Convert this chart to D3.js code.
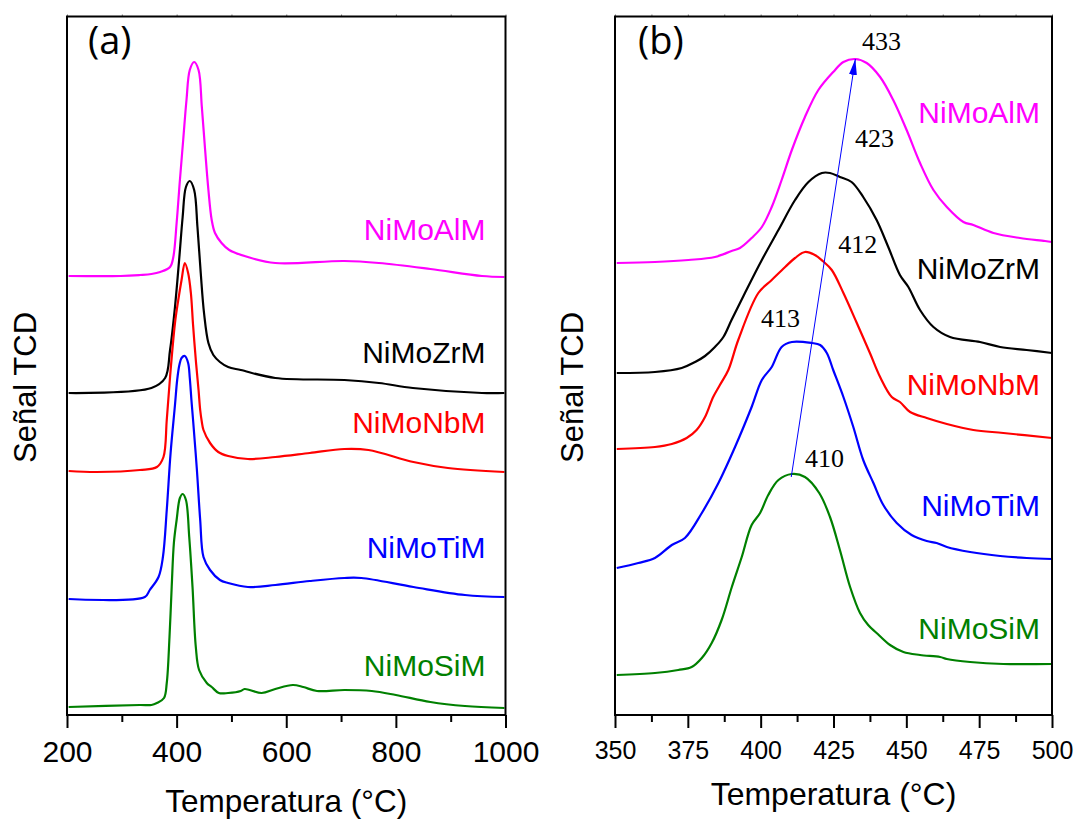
<!DOCTYPE html>
<html>
<head>
<meta charset="utf-8">
<script src="https://cdn.jsdelivr.net/npm/d3@7"></script>
<style>
body { margin: 0; background: #fff; }
text { font-family: "Liberation Sans", Arial, sans-serif; }
</style>
</head>
<body>
<div id="chart"></div>
<script>

// samples, top to bottom
var samples = ["NiMoAlM", "NiMoZrM", "NiMoNbM", "NiMoTiM", "NiMoSiM"];
var colors = ["#ff00ff", "#000000", "#ff0000", "#0000ff", "#008000"];

// ---- panel (a): 200-1000 °C, TCD signal (a.u., curves offset) ----
var tempA_Al = [203, 298, 333, 354, 370, 388, 394, 400, 406, 412, 418, 424, 432, 440, 446, 452, 458, 464, 470, 482, 496, 530, 580, 706, 769, 863, 957, 998];
var sigA_Al = [43.9, 43.9, 44.0, 44.1, 44.3, 44.8, 45.8, 49.2, 53.5, 57.5, 61.5, 64.5, 65.3, 64.5, 60.8, 56.5, 52.5, 49.5, 48.2, 47.2, 46.5, 45.8, 45.2, 45.4, 45.2, 44.6, 43.9, 43.8];

var tempA_Zr = [203, 354, 379, 388, 397, 405, 411, 417, 424, 432, 438, 444, 450, 458, 467, 479, 494, 517, 580, 706, 769, 831, 957, 998];
var sigA_Zr = [32.2, 32.7, 33.7, 36.5, 40.8, 45.8, 49.8, 52.8, 53.4, 52.5, 48.8, 44.2, 40.2, 37.2, 36.0, 35.3, 34.8, 34.5, 33.7, 33.5, 33.2, 32.7, 32.2, 32.2];

var tempA_Nb = [203, 254, 333, 364, 376, 382, 388, 397, 403, 409, 415, 421, 426, 430, 435, 440, 443, 446, 449, 461, 476, 494, 530, 580, 643, 706, 750, 832, 895, 998];
var sigA_Nb = [24.4, 24.3, 24.5, 24.8, 25.8, 29.5, 33.8, 39.2, 41.5, 43.5, 45.2, 44.2, 42.2, 39.0, 35.5, 32.5, 30.5, 29.3, 28.5, 27.2, 26.3, 25.9, 25.6, 25.8, 26.2, 26.6, 26.5, 25.3, 24.7, 24.3];

var tempA_Ti = [203, 342, 351, 367, 375, 382, 389, 397, 401, 405, 409, 415, 421, 424, 427, 430, 437, 443, 449, 461, 479, 494, 530, 580, 643, 706, 737, 832, 926, 998];
var sigA_Ti = [11.6, 11.8, 12.5, 13.8, 15.8, 20.5, 26.2, 31.0, 33.5, 35.0, 35.7, 35.9, 35.2, 33.7, 31.5, 29.5, 24.5, 19.5, 15.8, 14.5, 13.5, 13.2, 12.8, 13.0, 13.4, 13.7, 13.7, 12.8, 12.0, 11.8];

var tempA_Si = [203, 333, 354, 364, 377, 382, 387, 391, 395, 400, 406, 411, 417, 423, 429, 435, 441, 455, 464, 477, 494, 517, 524, 555, 580, 612, 631, 656, 706, 756, 800, 863, 926, 998];
var sigA_Si = [0.8, 1.0, 1.0, 1.2, 1.7, 3.2, 7.8, 12.8, 17.2, 19.5, 21.7, 22.1, 21.5, 17.8, 12.8, 6.8, 4.5, 3.2, 2.8, 2.2, 2.2, 2.4, 2.6, 2.2, 2.6, 3.0, 2.8, 2.4, 2.5, 2.4, 2.0, 1.3, 0.9, 0.7];

// ---- panel (b): 350-500 °C detail ----
var tempB_Al = [350.6, 363.7, 375.2, 384.3, 390.0, 392.9, 396.9, 400.4, 403.8, 407.2, 410.7, 415.2, 419.8, 424.9, 428.4, 432.4, 436.4, 441.0, 445.5, 450.1, 454.7, 459.3, 463.9, 469.6, 473.0, 479.9, 489.0, 497.6, 500];
var sigB_Al = [45.2, 45.3, 45.5, 45.8, 46.4, 46.7, 47.7, 48.8, 50.8, 53.5, 56.5, 59.8, 62.5, 64.3, 65.3, 65.6, 65.2, 63.8, 61.5, 58.5, 55.2, 52.5, 50.8, 49.3, 49.0, 48.2, 47.7, 47.4, 47.3];

var tempB_Zr = [350.6, 363.7, 372.9, 377.5, 380.9, 384.3, 387.2, 390.0, 394.6, 400.4, 406.1, 411.8, 416.4, 421.0, 423.8, 427.2, 431.2, 435.2, 439.8, 443.8, 447.8, 450.7, 454.7, 459.3, 465.0, 475.3, 482.2, 491.3, 500];
var sigB_Zr = [34.2, 34.3, 34.7, 35.3, 35.9, 36.8, 37.8, 39.5, 42.2, 45.5, 48.5, 51.5, 53.3, 54.2, 54.2, 53.8, 53.3, 51.8, 49.5, 46.8, 44.0, 42.8, 40.5, 38.8, 37.8, 37.3, 36.8, 36.5, 36.2];

var tempB_Nb = [350.6, 363.7, 369.5, 374.6, 378.0, 380.9, 383.7, 386.0, 388.9, 392.3, 399.2, 403.8, 408.4, 411.8, 415.2, 418.6, 421.3, 424.4, 428.4, 433.0, 437.5, 441.0, 445.0, 447.8, 451.3, 457.0, 463.9, 473.0, 483.3, 500];
var sigB_Nb = [26.6, 26.8, 27.1, 27.7, 28.5, 29.8, 31.8, 33.0, 34.5, 37.5, 42.2, 43.5, 44.8, 45.7, 46.3, 46.0, 45.4, 44.5, 42.2, 39.2, 36.2, 33.8, 31.8, 31.3, 30.3, 29.7, 29.1, 28.5, 28.2, 27.7];

var tempB_Ti = [350.6, 358.0, 363.7, 369.5, 374.0, 379.8, 385.5, 391.2, 396.9, 400.4, 403.8, 407.2, 410.7, 417.5, 420.4, 422.7, 424.9, 428.4, 431.8, 435.2, 438.7, 442.1, 446.7, 451.8, 457.0, 460.4, 463.9, 471.9, 482.2, 491.3, 500];
var sigB_Ti = [14.7, 15.2, 15.7, 17.0, 17.7, 20.2, 23.2, 26.8, 30.8, 33.5, 34.8, 36.8, 37.3, 37.2, 37.0, 36.2, 34.5, 31.8, 28.8, 25.5, 23.2, 21.0, 19.2, 18.0, 17.4, 17.2, 16.8, 16.3, 15.9, 15.7, 15.6];

var tempB_Si = [350.6, 363.7, 371.7, 376.3, 379.8, 383.2, 386.6, 390.1, 393.5, 396.9, 399.8, 402.6, 406.1, 410.7, 415.2, 420.1, 423.8, 427.2, 430.7, 434.1, 436.9, 439.8, 444.4, 449.0, 454.7, 461.6, 463.9, 471.9, 483.3, 500];
var sigB_Si = [4.0, 4.2, 4.5, 4.8, 5.7, 7.2, 9.5, 12.8, 15.8, 19.0, 20.2, 22.0, 23.5, 24.1, 23.8, 22.2, 19.8, 16.5, 12.8, 10.2, 9.0, 8.2, 7.0, 6.3, 6.0, 5.8, 5.6, 5.3, 5.1, 5.1];

// peak maxima (°C) written in panel (b), and the arrow joining SiM -> AlM peaks
var peakLabels = [433, 423, 412, 413, 410];
var arrowFrom = [410.5, 23.8];
var arrowTo = [432.5, 65.6];

// axis ticks
var ticksA = [200, 400, 600, 800, 1000];
var minorA = [300, 500, 700, 900];
var ticksB = [350, 375, 400, 425, 450, 475, 500];
var minorB = [362.5, 387.5, 412.5, 437.5, 462.5, 487.5];
var sigMax = 69.85;

var svgWidth = 1077;
var svgHeight = 819;
var plotTop = 16.5;
var plotBottom = 715;

var svg = d3.select("#chart")
	.append("svg")
	.attr("width", svgWidth)
	.attr("height", svgHeight);

svg.append("rect")
	.attr("width", svgWidth)
	.attr("height", svgHeight)
	.attr("fill", "#fff");

var panels = [
	{
		left: 67, right: 505.5, domain: [200, 1000],
		ticks: ticksA, minor: minorA, tickFont: 30,
		temps: [tempA_Al, tempA_Zr, tempA_Nb, tempA_Ti, tempA_Si],
		sigs: [sigA_Al, sigA_Zr, sigA_Nb, sigA_Ti, sigA_Si],
		letter: "(a)", letterX: 88,
		labelRight: 485.5, labelSig: [47.5, 35.2, 28.2, 15.7, 3.9],
		yTitleX: 36, xTitleY: 812, xTitleFont: 31.5
	},
	{
		left: 615, right: 1052, domain: [350, 500],
		ticks: ticksB, minor: minorB, tickFont: 25,
		temps: [tempB_Al, tempB_Zr, tempB_Nb, tempB_Ti, tempB_Si],
		sigs: [sigB_Al, sigB_Zr, sigB_Nb, sigB_Ti, sigB_Si],
		letter: "(b)", letterX: 638,
		labelRight: 1040, labelSig: [59.2, 43.6, 32.0, 19.9, 7.6],
		yTitleX: 583, xTitleY: 805, xTitleFont: 32
	}
];

var yScale = d3.scaleLinear()
	.domain([0, sigMax])
	.range([plotBottom, plotTop]);

panels.forEach(function(p, pi) {

	var xScale = d3.scaleLinear()
		.domain(p.domain)
		.range([p.left, p.right]);

	var g = svg.append("g");

	// bottom axis: major ticks with labels
	var bottomAxis = d3.axisBottom(xScale)
		.tickValues(p.ticks)
		.tickSize(13)
		.tickPadding(13)
		.tickFormat(d3.format("d"));

	var xAxis = g.append("g")
		.attr("transform", `translate(0, ${plotBottom})`)
		.call(bottomAxis);
	xAxis.select(".domain").remove();
	xAxis.selectAll("line").attr("stroke-width", 2);
	xAxis.selectAll("text")
		.style("font-family", "'Liberation Sans', Arial, sans-serif")
		.style("font-size", p.tickFont + "px")
		.attr("fill", "#000");

	// minor ticks
	var minorAxis = d3.axisBottom(xScale)
		.tickValues(p.minor)
		.tickSize(7)
		.tickFormat("");
	var xMinor = g.append("g")
		.attr("transform", `translate(0, ${plotBottom})`)
		.call(minorAxis);
	xMinor.select(".domain").remove();
	xMinor.selectAll("line").attr("stroke-width", 2);

	// faint ticks on top edge
	var topAxis = d3.axisTop(xScale)
		.tickValues(p.ticks.concat(p.minor))
		.tickSize(2)
		.tickFormat("");
	var xTop = g.append("g")
		.attr("transform", `translate(0, ${plotTop})`)
		.call(topAxis);
	xTop.select(".domain").remove();
	xTop.selectAll("line").attr("stroke", "#777").attr("stroke-width", 1);

	// curves
	var line = d3.line()
		.x(d => xScale(d[0]))
		.y(d => yScale(d[1]))
		.curve(d3.curveCatmullRom.alpha(0.5));

	g.append("defs").append("clipPath")
		.attr("id", "clip" + pi)
		.append("rect")
		.attr("x", p.left)
		.attr("y", plotTop)
		.attr("width", p.right - p.left)
		.attr("height", plotBottom - plotTop);

	samples.forEach(function(name, i) {
		var pts = p.temps[i].map((t, k) => [t, p.sigs[i][k]]);
		g.append("path")
			.datum(pts)
			.attr("clip-path", `url(#clip${pi})`)
			.attr("fill", "none")
			.attr("stroke", colors[i])
			.attr("stroke-width", 2.2)
			.attr("stroke-linejoin", "round")
			.attr("d", line);

		g.append("text")
			.attr("x", p.labelRight)
			.attr("y", yScale(p.labelSig[i]))
			.attr("text-anchor", "end")
			.style("font-size", "30px")
			.attr("fill", colors[i])
			.text(name);
	});

	// frame
	g.append("rect")
		.attr("x", p.left)
		.attr("y", plotTop)
		.attr("width", p.right - p.left)
		.attr("height", plotBottom - plotTop)
		.attr("fill", "none")
		.attr("stroke", "#000")
		.attr("stroke-width", 2);

	// panel letter
	g.append("text")
		.attr("x", p.letterX)
		.attr("y", 53.5)
		.style("font-family", "'Open Sans', sans-serif")
		.style("font-size", "38px")
		.text(p.letter);

	// axis titles
	g.append("text")
		.attr("x", (p.left + p.right) / 2)
		.attr("y", p.xTitleY)
		.attr("text-anchor", "middle")
		.style("font-size", p.xTitleFont + "px")
		.text("Temperatura (°C)");

	g.append("text")
		.attr("transform", `translate(${p.yTitleX}, 387.5) rotate(-90)`)
		.attr("text-anchor", "middle")
		.style("font-size", "31px")
		.text("Señal TCD");

	// panel (b): arrow through the peak maxima and their temperatures
	if (pi === 1) {
		g.append("defs").append("marker")
			.attr("id", "arrowHead")
			.attr("viewBox", "0 0 16 8")
			.attr("refX", 16)
			.attr("refY", 4)
			.attr("markerWidth", 16)
			.attr("markerHeight", 8)
			.attr("markerUnits", "userSpaceOnUse")
			.attr("orient", "auto")
			.append("path")
			.attr("d", "M0,0 L16,4 L0,8 Z")
			.attr("fill", "#0000ff");

		g.append("line")
			.attr("x1", xScale(arrowFrom[0]))
			.attr("y1", yScale(arrowFrom[1]))
			.attr("x2", xScale(arrowTo[0]))
			.attr("y2", yScale(arrowTo[1]))
			.attr("stroke", "#0000ff")
			.attr("stroke-width", 1)
			.attr("marker-end", "url(#arrowHead)");

		var peakPos = [[434.8, 66.5], [432.4, 56.8], [426.6, 46.2], [400.1, 38.8], [415.2, 24.8]];
		peakLabels.forEach(function(v, i) {
			g.append("text")
				.attr("x", xScale(peakPos[i][0]))
				.attr("y", yScale(peakPos[i][1]))
				.style("font-family", "'Liberation Serif', 'Times New Roman', serif")
				.style("font-size", "26px")
				.attr("fill", "#000")
				.text(v);
		});
	}
});

</script>
</body>
</html>
